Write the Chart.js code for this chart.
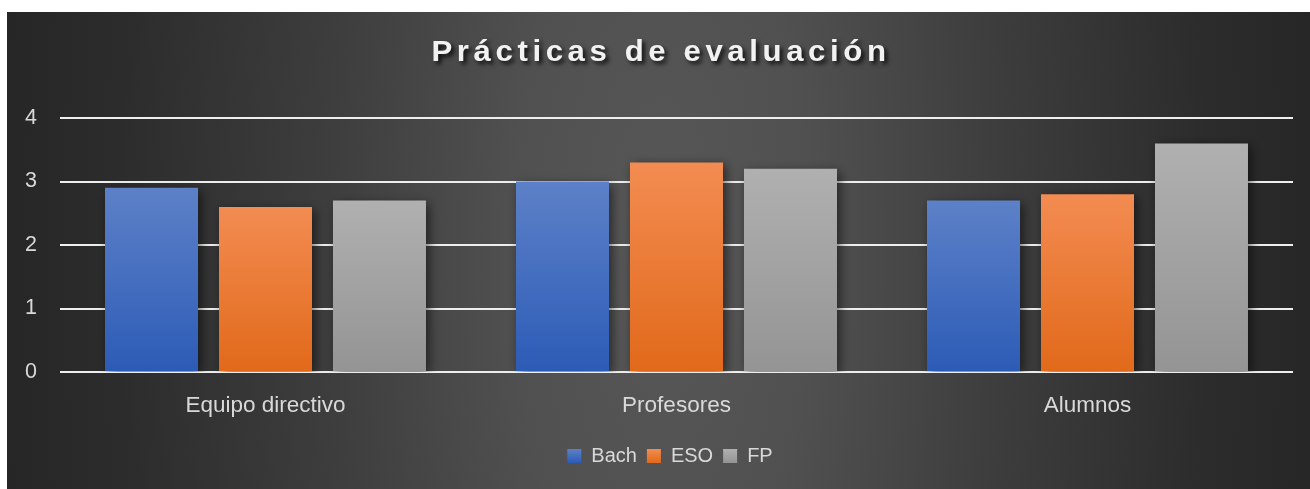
<!DOCTYPE html>
<html><head><meta charset="utf-8">
<script src="https://cdn.jsdelivr.net/npm/chart.js@4.4.1/dist/chart.umd.min.js"></script>
<style>
html,body{margin:0;padding:0;background:#ffffff;overflow:hidden;}
#wrap{position:absolute;left:7px;top:12px;width:1303px;height:477px;}
</style></head><body>
<div id="wrap"><canvas id="c"></canvas></div>
<script>
const chartTitle = 'Prácticas de evaluación';
const categories = ['Equipo directivo', 'Profesores', 'Alumnos'];
const seriesNames = ['Bach', 'ESO', 'FP'];
const bachValues = [2.9, 3.0, 2.7];
const esoValues = [2.6, 3.3, 2.8];
const fpValues = [2.7, 3.2, 3.6];
const yTicks = [0, 1, 2, 3, 4];

const FONT = "'Liberation Sans', Arial, sans-serif";
const TEXT = '#d9d9d9';
const barTop = ['#5d81c8', '#f38c52', '#b0b0b0'];
const barBottom = ['#2c5bb6', '#e1691a', '#949494'];

function barGradient(top, bottom) {
  return (context) => {
    const chart = context.chart;
    const {ctx, chartArea, scales} = chart;
    if (!chartArea || context.type !== 'data' || !scales.y) return top;
    const y0 = scales.y.getPixelForValue(0);
    const y1 = scales.y.getPixelForValue(context.raw);
    if (!isFinite(y0) || !isFinite(y1) || y0 === y1) return top;
    const g = ctx.createLinearGradient(0, y1, 0, y0);
    g.addColorStop(0, top);
    g.addColorStop(1, bottom);
    return g;
  };
}

const bgPlugin = {
  id: 'bg',
  beforeDraw(chart) {
    const {ctx, width, height} = chart;
    const sy = 2.6;
    ctx.save();
    const cx = width * 0.503, cy = height * 0.5;
    ctx.translate(cx, cy);
    ctx.scale(1, sy);
    const g = ctx.createRadialGradient(0, 0, 0, 0, 0, 680);
    g.addColorStop(0, '#575757');
    g.addColorStop(0.22, '#505050');
    g.addColorStop(0.5, '#3d3d3d');
    g.addColorStop(0.8, '#2c2c2c');
    g.addColorStop(1, '#252525');
    ctx.fillStyle = g;
    ctx.fillRect(-cx - 5, -cy / sy - 5, width + 10, height / sy + 10);
    ctx.restore();
  }
};

const shadowPlugin = {
  id: 'barShadow',
  beforeDatasetsDraw(chart) {
    const c = chart.ctx;
    c.save();
    c.shadowColor = 'rgba(0,0,0,0.55)';
    c.shadowBlur = 10;
    c.shadowOffsetX = 3;
    c.shadowOffsetY = 3;
  },
  afterDatasetsDraw(chart) { chart.ctx.restore(); }
};

const boxPatch = {
  id: 'boxPatch',
  beforeDraw(chart) {
    const tb = chart.titleBlock;
    if (tb && !tb._patched) {
      const orig = tb.draw.bind(tb);
      tb.draw = function () {
        const c = chart.ctx;
        const mid = (tb.left + tb.right) / 2;
        c.save();
        c.letterSpacing = '4.4px';
        c.shadowColor = 'rgba(0,0,0,0.8)';
        c.shadowBlur = 4;
        c.shadowOffsetX = 3;
        c.shadowOffsetY = 3;
        c.translate(mid + 11, 0);
        c.scale(1.04, 1);
        c.translate(-mid, 0);
        orig();
        c.restore();
      };
      tb._patched = true;
    }
    const lg = chart.legend;
    if (lg && !lg._patched) {
      const origL = lg.draw.bind(lg);
      lg.draw = function () {
        const c = chart.ctx;
        c.save();
        c.translate(20, 0);
        origL();
        c.restore();
      };
      lg._patched = true;
    }
  }
};

function legendFill(chart, i) {
  const lg = chart.legend;
  const top = lg && isFinite(lg.top) ? lg.top + 10 + 3 : 437;
  const g = chart.ctx.createLinearGradient(0, top, 0, top + 14);
  g.addColorStop(0, barTop[i]);
  g.addColorStop(1, barBottom[i]);
  return g;
}

new Chart(document.getElementById('c'), {
  type: 'bar',
  data: {
    labels: categories,
    datasets: [
      {label: seriesNames[0], data: bachValues, backgroundColor: barGradient(barTop[0], barBottom[0])},
      {label: seriesNames[1], data: esoValues, backgroundColor: barGradient(barTop[1], barBottom[1])},
      {label: seriesNames[2], data: fpValues, backgroundColor: barGradient(barTop[2], barBottom[2])}
    ]
  },
  plugins: [bgPlugin, shadowPlugin, boxPatch],
  options: {
    responsive: true,
    maintainAspectRatio: false,
    animation: false,
    devicePixelRatio: 1,
    layout: {padding: {left: 0, right: 17, top: 0, bottom: 13}},
    datasets: {bar: {categoryPercentage: 0.832, barPercentage: 0.816, borderWidth: 0}},
    plugins: {
      title: {
        display: true,
        text: chartTitle,
        color: '#f2f2f2',
        font: {family: FONT, size: 30, weight: 'bold', lineHeight: 1.2},
        padding: {top: 23, bottom: 47}
      },
      legend: {
        position: 'bottom',
        labels: {
          color: TEXT,
          font: {family: FONT, size: 20},
          boxWidth: 14,
          boxHeight: 14,
          padding: 10,
          generateLabels(chart) {
            return chart.data.datasets.map((ds, i) => ({
              text: ds.label,
              fillStyle: legendFill(chart, i),
              strokeStyle: 'rgba(0,0,0,0)',
              lineWidth: 0,
              fontColor: TEXT,
              hidden: !chart.isDatasetVisible(i),
              datasetIndex: i
            }));
          }
        }
      },
      tooltip: {enabled: false}
    },
    scales: {
      x: {
        grid: {display: false},
        border: {display: false},
        ticks: {color: TEXT, font: {family: FONT, size: 22.5}, padding: 12},
        afterFit(scale) { scale.height = 64; }
      },
      y: {
        min: 0,
        max: 4,
        grid: {color: '#eeeeee', lineWidth: 2, drawTicks: false},
        border: {display: false},
        ticks: {color: TEXT, font: {family: FONT, size: 21.5}, padding: 23},
        afterBuildTicks(scale) { scale.ticks = yTicks.map(v => ({value: v})); },
        afterFit(scale) { scale.width = 53; }
      }
    }
  }
});
</script>
</body></html>
